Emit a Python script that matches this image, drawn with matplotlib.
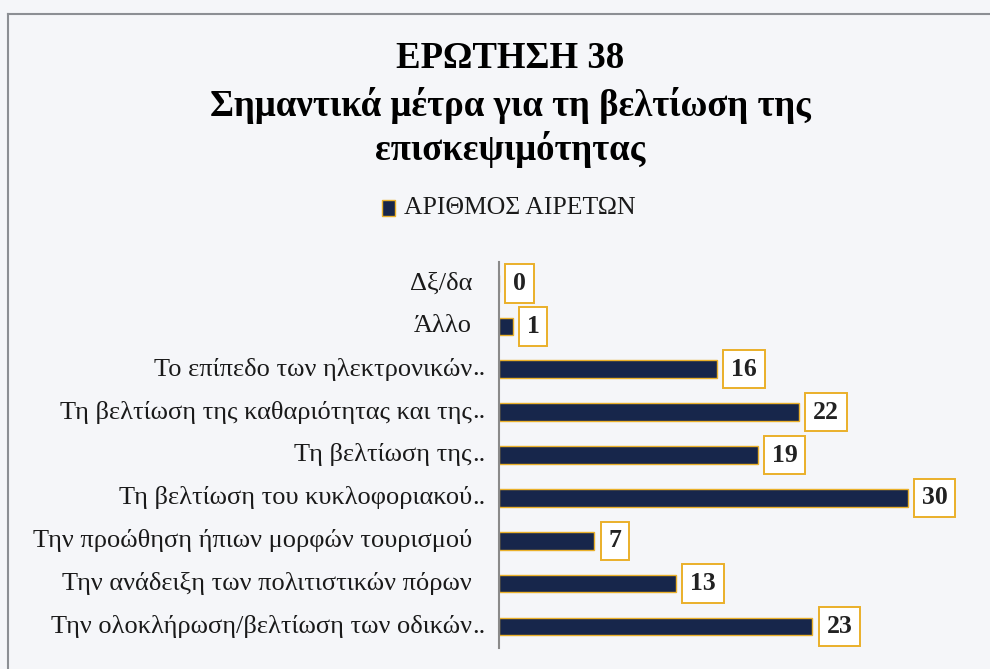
import matplotlib.pyplot as plt
from matplotlib.patches import Rectangle
from matplotlib.lines import Line2D

# answers to question 38, top to bottom
categories = [
    "Δξ/δα",
    "Άλλο",
    "Το επίπεδο των ηλεκτρονικών..",
    "Τη βελτίωση της καθαριότητας και της..",
    "Τη βελτίωση της..",
    "Τη βελτίωση του κυκλοφοριακού..",
    "Την προώθηση ήπιων μορφών τουρισμού",
    "Την ανάδειξη των πολιτιστικών πόρων",
    "Την ολοκλήρωση/βελτίωση των οδικών..",
]
counts = [0, 1, 16, 22, 19, 30, 7, 13, 23]

title_lines = ["ΕΡΩΤΗΣΗ 38", "Σημαντικά μέτρα για τη βελτίωση της", "επισκεψιμότητας"]
legend_label = "ΑΡΙΘΜΟΣ ΑΙΡΕΤΩΝ"

navy = "#17264b"
gold = "#eab02a"
bg = "#f5f6f9"
serif = "Liberation Serif"

fig = plt.figure(figsize=(9.9, 6.69), dpi=100)
fig.patch.set_facecolor(bg)

# chart frame (left and top edges visible)
fig.add_artist(Line2D([8 / 990, 8 / 990], [0, 1 - 14 / 669], color="#8c8f94", lw=1.5))
fig.add_artist(Line2D([8 / 990, 1], [1 - 14 / 669, 1 - 14 / 669], color="#8c8f94", lw=1.5))

# titles
for yy, line in zip([59, 105, 149], title_lines):
    fig.text(510 / 990, 1 - yy / 669, line, ha="center", va="center",
             family=serif, fontweight="bold", fontsize=26.5)

# legend
fig.add_artist(Rectangle((382 / 990, 1 - 216 / 669), 13 / 990, 16 / 669,
                         facecolor=navy, edgecolor=gold, lw=1.0, transform=fig.transFigure))
fig.text(404 / 990, 1 - 208 / 669, legend_label, ha="left", va="center",
         family=serif, fontsize=18.5, color="#1a1a1a")

ax = fig.add_axes([499 / 990, 1 - 648 / 669, 477 / 990, 386 / 669])
ax.set_facecolor("none")
ypos = list(range(len(categories)))
ax.barh(ypos, counts, height=0.41, color=navy, edgecolor=gold, linewidth=1.0)
ax.set_xlim(0, 35)
ax.set_ylim(len(categories) - 0.5, -0.5)

for s in ["top", "right", "bottom"]:
    ax.spines[s].set_visible(False)
ax.spines["left"].set_color("#8a8a8a")
ax.spines["left"].set_linewidth(1.5)
ax.set_xticks([])
ax.set_yticks([])

# category labels; truncated ones let the ".." hang past the right edge
for y, name in zip(ypos, categories):
    main = name[:-2] if name.endswith("..") else name
    ax.annotate(main, xy=(0, y), xytext=(-27, 0), textcoords="offset pixels",
                ha="right", va="center", family=serif, fontsize=19,
                color="#1a1a1a")
    if name.endswith(".."):
        ax.annotate("..", xy=(0, y), xytext=(-27, 0), textcoords="offset pixels",
                    ha="left", va="center", family=serif, fontsize=19,
                    color="#1a1a1a")

# value boxes
for y, v in zip(ypos, counts):
    ax.annotate(str(v), xy=(v, y), xytext=(14, 0), textcoords="offset pixels",
                ha="left", va="center", family=serif, fontweight="bold",
                fontsize=18.5, color="#222222",
                bbox=dict(boxstyle="square,pad=0.3", facecolor="white",
                          edgecolor=gold, linewidth=1.4))

fig.savefig("out.png", dpi=100, facecolor=bg)
